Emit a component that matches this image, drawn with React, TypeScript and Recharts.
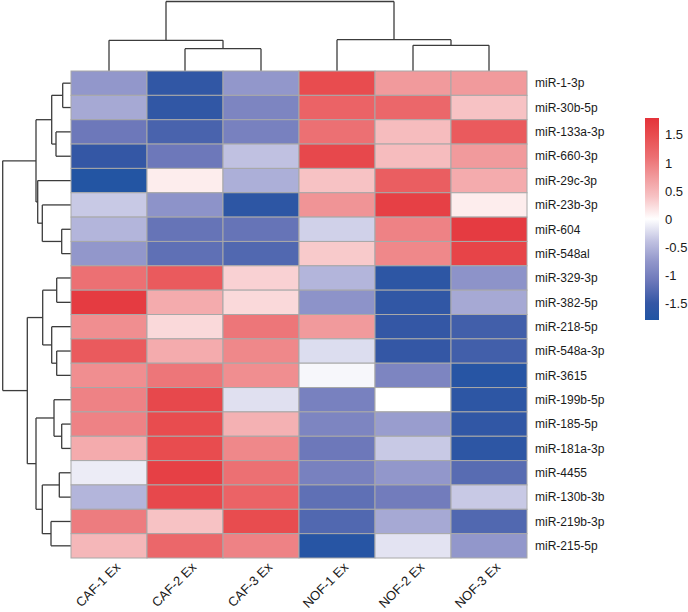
import React from 'react';
import { ScatterChart, Scatter, XAxis, YAxis, ReferenceLine, BarChart, Bar } from 'recharts';

// ---------- data ----------
const samples = ['CAF-1 Ex', 'CAF-2 Ex', 'CAF-3 Ex', 'NOF-1 Ex', 'NOF-2 Ex', 'NOF-3 Ex'];
const mirnas = [
  'miR-1-3p', 'miR-30b-5p', 'miR-133a-3p', 'miR-660-3p', 'miR-29c-3p', 'miR-23b-3p', 'miR-604', 'miR-548al',
  'miR-329-3p', 'miR-382-5p', 'miR-218-5p', 'miR-548a-3p', 'miR-3615', 'miR-199b-5p', 'miR-185-5p',
  'miR-181a-3p', 'miR-4455', 'miR-130b-3b', 'miR-219b-3p', 'miR-215-5p',
];
const caf1 = [-0.75, -0.6, -1.1, -1.5, -1.75, -0.35, -0.5, -0.75, 1.1, 1.7, 0.85, 1.35, 0.85, 0.95, 0.95, 0.6, -0.12, -0.5, 1.0, 0.5];
const caf2 = [-1.55, -1.55, -1.35, -1.1, 0.12, -0.8, -1.15, -1.2, 1.35, 0.6, 0.25, 0.6, 1.05, 1.55, 1.5, 1.5, 1.65, 1.55, 0.4, 1.2];
const caf3 = [-0.75, -0.95, -1.0, -0.4, -0.55, -1.6, -1.15, -1.3, 0.3, 0.25, 1.05, 0.9, 0.85, -0.2, 0.55, 0.9, 1.1, 1.25, 1.5, 0.95];
const nof1 = [1.5, 1.25, 1.1, 1.55, 0.4, 0.8, -0.3, 0.35, -0.5, -0.8, 0.75, -0.22, -0.05, -1.0, -0.95, -1.1, -1.0, -1.2, -1.3, -1.7];
const nof2 = [0.75, 1.2, 0.45, 0.45, 1.3, 1.65, 0.95, 0.9, -1.6, -1.55, -1.5, -1.5, -0.95, 0.0, -0.7, -0.35, -0.75, -1.05, -0.6, -0.18];
const nof3 = [0.75, 0.4, 1.35, 0.75, 0.6, 0.12, 1.7, 1.6, -0.8, -0.6, -1.4, -1.4, -1.7, -1.6, -1.55, -1.6, -1.25, -0.35, -1.3, -0.75];
const seriesValues = [caf1, caf2, caf3, nof1, nof2, nof3];

// dendrogram merges: [node, childA, childB, height]
const rowTree: [string, string, string, number][] = [
  ['A', 'r0', 'r1', 0.83], ['B', 'r2', 'r3', 1.5], ['C', 'A', 'B', 1.93],
  ['D', 'r6', 'r7', 0.93], ['E', 'r5', 'D', 2.87], ['F', 'r4', 'E', 3.33], ['G', 'C', 'F', 3.5],
  ['H', 'r8', 'r9', 1.43], ['I', 'r11', 'r12', 1.43], ['J', 'r10', 'I', 1.93], ['K', 'H', 'J', 2.83],
  ['L', 'r14', 'r15', 0.93], ['M', 'r13', 'L', 1.7], ['N', 'r16', 'r17', 1.17], ['O', 'r18', 'r19', 2.0],
  ['P', 'N', 'O', 2.87], ['Q', 'M', 'P', 3.5], ['R', 'K', 'Q', 4.37], ['root', 'G', 'R', 6.83],
];
const colTree: [string, string, string, number][] = [
  ['a', 'r1', 'r2', 2.23], ['b', 'r0', 'a', 3.07], ['c', 'r4', 'r5', 2.57], ['d', 'r3', 'c', 3.13], ['root', 'b', 'd', 6.95],
];

const colorTicks = [-1.5, -1, -0.5, 0, 0.5, 1, 1.5];
const colorDomain = [-1.8, 1.8];
const paletteStops: [number, string][] = [
  [-1.8, '#2054A3'], [-1.5, '#3457A5'], [-1.1, '#6D78BA'], [-0.75, '#9297CB'], [-0.4, '#C0C1E1'],
  [0, '#FFFFFF'], [0.4, '#F7C2C4'], [0.75, '#F19A9C'], [1.1, '#EC7073'], [1.5, '#E84C4F'], [1.8, '#E4333A'],
];

// ---------- layout ----------
const W = 688, H = 612;
const PLOT_L = 71, PLOT_T = 71, PLOT_R = 527, PLOT_B = 558;
const CELL_W = (PLOT_R - PLOT_L) / samples.length;
const CELL_H = (PLOT_B - PLOT_T) / mirnas.length;
const DEND_PX = 10; // pixels per height unit
const FONT = '"Liberation Sans", Arial, Helvetica, sans-serif';
const LINE = '#3c3c3c';

const hex = (h: string) => [1, 3, 5].map((i) => parseInt(h.slice(i, i + 2), 16));
function colorFor(v: number) {
  const s = paletteStops;
  if (v <= s[0][0]) return s[0][1];
  if (v >= s[s.length - 1][0]) return s[s.length - 1][1];
  for (let i = 0; i < s.length - 1; i++) {
    const [v0, c0] = s[i];
    const [v1, c1] = s[i + 1];
    if (v >= v0 && v <= v1) {
      const t = (v - v0) / (v1 - v0);
      const a = hex(c0), b = hex(c1);
      const m = a.map((x, k) => Math.round(x + (b[k] - x) * t));
      return `rgb(${m[0]},${m[1]},${m[2]})`;
    }
  }
  return '#fff';
}

const cells = mirnas.flatMap((_, r) =>
  samples.map((__, c) => ({ x: c + 0.5, y: r + 0.5, v: seriesValues[c][r] })),
);

type Seg = { x1: number; y1: number; x2: number; y2: number };
function buildTree(tree: [string, string, string, number][]) {
  const pos: Record<string, number> = {};
  const hgt: Record<string, number> = {};
  const get = (id: string) => {
    if (id in pos) return [pos[id], hgt[id]];
    return [parseInt(id.slice(1), 10) + 0.5, 0];
  };
  const segs: { p1: number; p2: number; h1: number; h2: number; h: number }[] = [];
  tree.forEach(([id, a, b, h]) => {
    const [pa, ha] = get(a);
    const [pb, hb] = get(b);
    segs.push({ p1: pa, p2: pb, h1: ha, h2: hb, h });
    pos[id] = (pa + pb) / 2;
    hgt[id] = h;
  });
  return segs;
}

// row dendrogram: height -> negative x (columns units); col dendrogram: height -> negative y (row units)
const rowSegs: Seg[] = buildTree(rowTree).flatMap(({ p1, p2, h1, h2, h }) => {
  const fx = (hh: number) => (-hh * DEND_PX) / CELL_W;
  return [
    { x1: fx(h1), y1: p1, x2: fx(h), y2: p1 },
    { x1: fx(h2), y1: p2, x2: fx(h), y2: p2 },
    { x1: fx(h), y1: p1, x2: fx(h), y2: p2 },
  ];
});
const colSegs: Seg[] = buildTree(colTree).flatMap(({ p1, p2, h1, h2, h }) => {
  const fy = (hh: number) => (-hh * DEND_PX) / CELL_H;
  return [
    { x1: p1, y1: fy(h1), x2: p1, y2: fy(h) },
    { x1: p2, y1: fy(h2), x2: p2, y2: fy(h) },
    { x1: p1, y1: fy(h), x2: p2, y2: fy(h) },
  ];
});

const CellShape = (props: any) => {
  const { cx, cy, payload } = props;
  return (
    <rect
      x={cx - CELL_W / 2}
      y={cy - CELL_H / 2}
      width={CELL_W}
      height={CELL_H}
      fill={colorFor(payload.v)}
      stroke="#a8a8a8"
      strokeWidth={1}
    />
  );
};

const ColTick = (props: any) => {
  const { x, y, payload } = props;
  const label = samples[Math.floor(payload.value)];
  const ax = x + 12;
  const ay = y + 2;
  return (
    <text x={ax} y={ay} transform={`rotate(-45 ${ax} ${ay})`} textAnchor="end" fontSize={13} fill="#1a1a1a" fontFamily={FONT}>
      {label}
    </text>
  );
};

const colTicks = samples.map((_, i) => i + 0.5);
const rowTicks = mirnas.map((_, i) => i + 0.5);

const gradStops = paletteStops
  .slice()
  .reverse()
  .map(([v, c]) => ({ offset: (colorDomain[1] - v) / (colorDomain[1] - colorDomain[0]), color: c }));

export default function App() {
  const Y_AXIS_W = 80;
  const X_AXIS_H = 40;
  return (
    <div style={{ position: 'absolute', left: 0, top: 0, width: W, height: H, background: '#fff', fontFamily: FONT }}>
      <svg width={0} height={0} style={{ position: 'absolute' }}>
        <defs>
          <linearGradient id="cbarGrad" x1="0" y1="0" x2="0" y2="1">
            {gradStops.map((s, i) => (
              <stop key={i} offset={s.offset} stopColor={s.color} />
            ))}
          </linearGradient>
        </defs>
      </svg>
      <ScatterChart
        width={W}
        height={H}
        margin={{ top: PLOT_T, left: PLOT_L, right: W - PLOT_R - Y_AXIS_W, bottom: H - PLOT_B - X_AXIS_H }}
      >
        <XAxis
          type="number"
          dataKey="x"
          domain={[0, samples.length]}
          ticks={colTicks}
          interval={0}
          axisLine={false}
          tickLine={false}
          height={X_AXIS_H}
          tick={<ColTick />}
        />
        <YAxis
          type="number"
          dataKey="y"
          domain={[0, mirnas.length]}
          reversed
          orientation="right"
          ticks={rowTicks}
          interval={0}
          axisLine={false}
          tickLine={false}
          width={Y_AXIS_W}
          tickFormatter={(v: number) => mirnas[Math.floor(v)]}
          tick={{ fontSize: 12, fill: '#1a1a1a', fontFamily: FONT }}
        />
        <Scatter data={cells} shape={<CellShape />} isAnimationActive={false} />
        {rowSegs.map((s, i) => (
          <ReferenceLine
            key={'r' + i}
            segment={[{ x: s.x1, y: s.y1 }, { x: s.x2, y: s.y2 }]}
            stroke={LINE}
            strokeWidth={1.3}
            ifOverflow="visible"
          />
        ))}
        {colSegs.map((s, i) => (
          <ReferenceLine
            key={'c' + i}
            segment={[{ x: s.x1, y: s.y1 }, { x: s.x2, y: s.y2 }]}
            stroke={LINE}
            strokeWidth={1.3}
            ifOverflow="visible"
          />
        ))}
      </ScatterChart>
      <div style={{ position: 'absolute', left: 645, top: 118 }}>
        <BarChart
          width={50}
          height={202}
          data={[{ k: 'scale', r: colorDomain }]}
          margin={{ top: 0, right: 0, bottom: 0, left: 0 }}
          barCategoryGap={0}
        >
          <XAxis dataKey="k" hide />
          <YAxis
            type="number"
            domain={colorDomain}
            ticks={colorTicks}
            orientation="right"
            width={36}
            axisLine={false}
            tickLine={false}
            tickMargin={0}
            interval={0}
            allowDataOverflow
            tick={{ fontSize: 13, fill: '#1a1a1a', fontFamily: FONT, textAnchor: 'start' }}
          />
          <Bar dataKey="r" fill="url(#cbarGrad)" isAnimationActive={false} />
        </BarChart>
      </div>
    </div>
  );
}
